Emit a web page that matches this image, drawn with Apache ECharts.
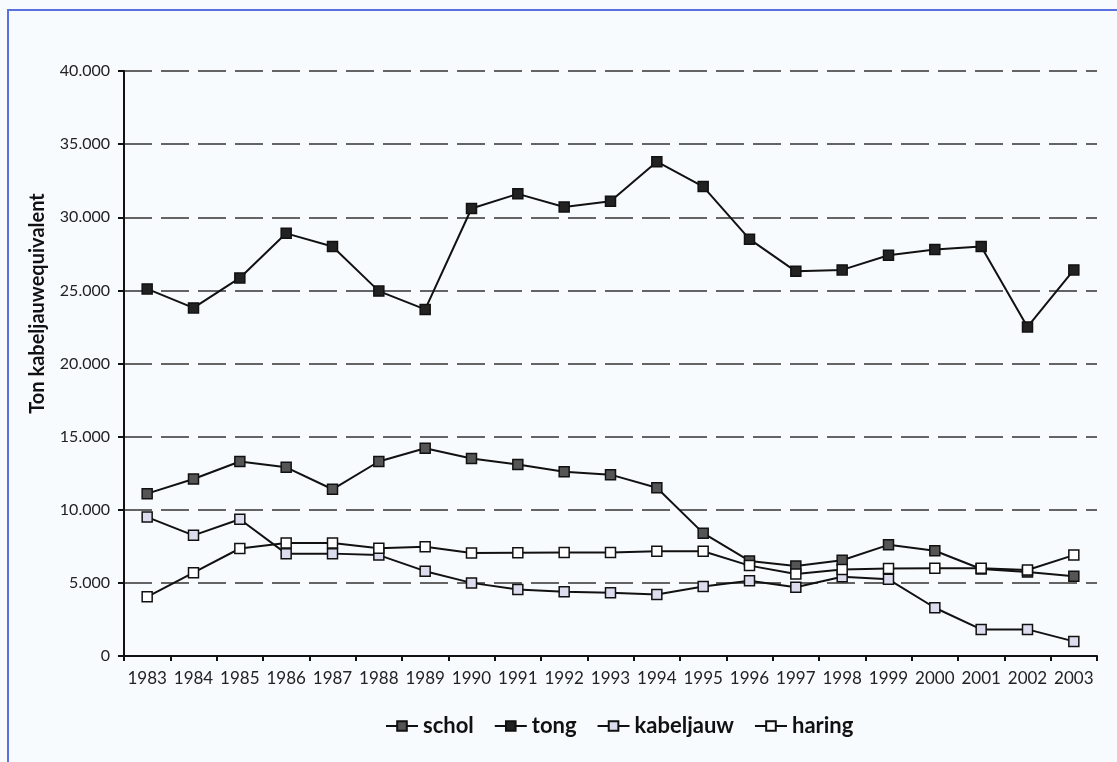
<!DOCTYPE html>
<html>
<head>
<meta charset="utf-8">
<script src="https://cdn.jsdelivr.net/npm/echarts@6/dist/echarts.min.js"></script>
<style>
html,body{margin:0;padding:0;background:#f8fbfd;}
#frame{position:absolute;left:7px;top:9px;width:1200px;height:800px;border-left:2px solid #5a6fe0;border-top:2px solid #5a6fe0;box-sizing:border-box;}
#chart{position:absolute;left:0;top:0;width:1117px;height:762px;}
</style>
</head>
<body>
<div id="frame"></div>
<div id="chart"></div>
<script>
const years = ['1983','1984','1985','1986','1987','1988','1989','1990','1991','1992','1993','1994','1995','1996','1997','1998','1999','2000','2001','2002','2003'];
const schol = [11100,12100,13300,12900,11400,13300,14200,13500,13100,12600,12400,11500,8400,6500,6150,6550,7600,7200,5950,5750,5450];
const tong = [25100,23800,25850,28900,28000,24950,23700,30600,31600,30700,31100,33800,32100,28500,26300,26400,27400,27800,28000,22500,26400];
const kabeljauw = [9500,8250,9350,7000,7000,6900,5800,5000,4550,4400,4330,4200,4750,5150,4700,5420,5240,3300,1820,1820,1000];
const haring = [4050,5700,7350,7720,7720,7360,7470,7040,7060,7080,7080,7160,7160,6180,5600,5920,5990,6000,6000,5880,6900];
const yTicks = {min:0, max:40000, interval:5000};

const font = 'Lato, "Open Sans", "DejaVu Sans", sans-serif';
function mk(name, data, fill){
  return {
    name, type:'line', data,
    symbol:'rect', symbolSize:10,
    itemStyle:{color:fill, borderColor:'#111', borderWidth:1.5},
    lineStyle:{color:'#111', width:2},
    emphasis:{disabled:true},
    animation:false
  };
}
const chart = echarts.init(document.getElementById('chart'));
chart.setOption({
  backgroundColor:'transparent',
  textStyle:{fontFamily:font},
  grid:{left:124, right:20, top:71, bottom:106},
  legend:{
    bottom:20, left:380, itemWidth:32, itemHeight:12, itemGap:20,
    textStyle:{fontSize:22, fontWeight:'bold', color:'#111', fontFamily:font},
    data:['schol','tong','kabeljauw','haring']
  },
  xAxis:{
    type:'category', data:years, boundaryGap:true,
    axisLine:{lineStyle:{color:'#111', width:2}},
    axisTick:{show:true, length:5, lineStyle:{color:'#111', width:2}},
    axisLabel:{fontSize:17, color:'#222', margin:14, fontFamily:font, interval:0},
    splitLine:{show:false}
  },
  yAxis:{
    type:'value', min:yTicks.min, max:yTicks.max, interval:yTicks.interval,
    name:'Ton kabeljauwequivalent', nameLocation:'middle', nameGap:76,
    nameTextStyle:{fontSize:20, fontWeight:'bold', color:'#111', fontFamily:font, padding:[0,0,0,120]},
    axisLine:{show:true, lineStyle:{color:'#111', width:2}},
    axisTick:{show:true, length:6, lineStyle:{color:'#111', width:2}},
    axisLabel:{fontSize:16, color:'#222', margin:14, fontFamily:font,
      formatter:v => v===0 ? '0' : (v/1000).toFixed(3)},
    splitLine:{show:true, lineStyle:{color:'#333', width:1.5, type:[28,9]}}
  },
  series:[
    mk('schol', schol, '#555'),
    mk('tong', tong, '#222'),
    mk('kabeljauw', kabeljauw, '#dcdcef'),
    mk('haring', haring, '#ffffff')
  ]
});
</script>
</body>
</html>
